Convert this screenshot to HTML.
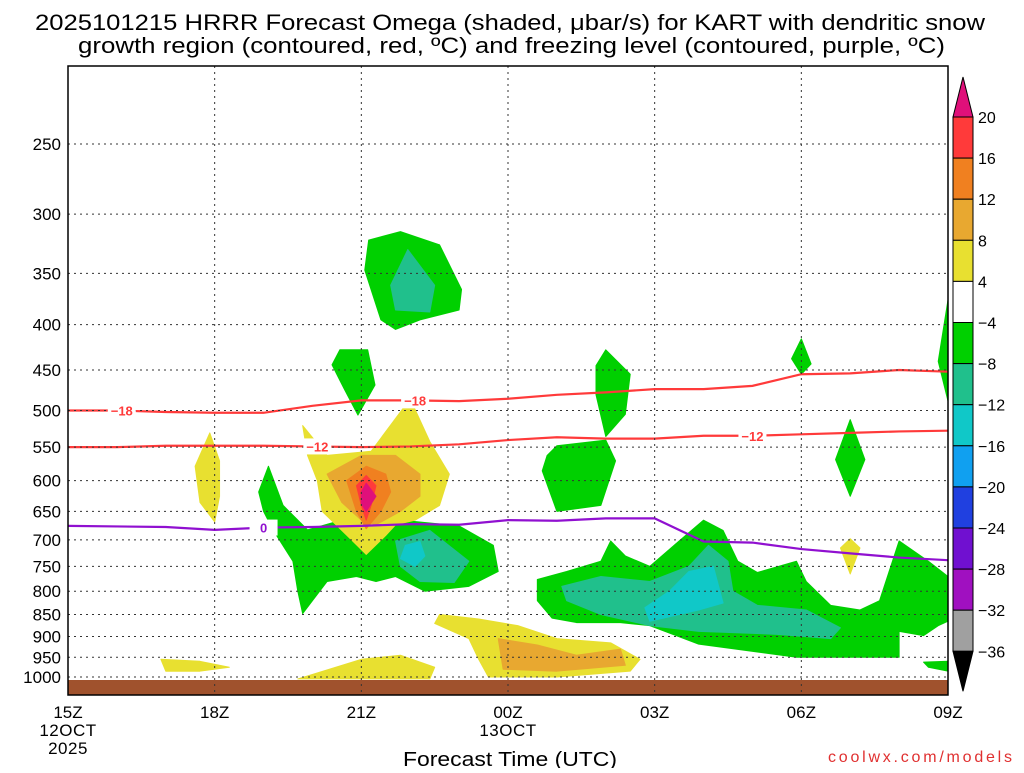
<!DOCTYPE html>
<html><head><meta charset="utf-8"><style>
body{margin:0;background:#fff;width:1024px;height:768px;overflow:hidden;font-family:"Liberation Sans",sans-serif}
svg text{font-family:"Liberation Sans","DejaVu Sans",sans-serif}
</style></head><body>
<svg id="chart" width="1024" height="768" xmlns="http://www.w3.org/2000/svg">
<text x="35" y="30" font-size="22" textLength="950" lengthAdjust="spacingAndGlyphs">2025101215 HRRR Forecast Omega (shaded, μbar/s) for KART with dendritic snow</text>
<text x="78" y="53" font-size="22" textLength="867" lengthAdjust="spacingAndGlyphs">growth region (contoured, red, ºC) and freezing level (contoured, purple, ºC)</text>
<g id="plot"></g>
<g id="cbar"></g>
<text x="403" y="766" font-size="20" textLength="214" lengthAdjust="spacingAndGlyphs">Forecast Time (UTC)</text>
<text x="828" y="762" font-size="16" fill="#e03030" textLength="184" lengthAdjust="spacing">coolwx.com/models</text>
</svg>
<script>
const pTicks=[250,300,350,400,450,500,550,600,650,700,750,800,850,900,950,1000];
const xTickHours=[0,3,6,9,12,15,18];
const xTickLabels=["15Z","18Z","21Z","00Z","03Z","06Z","09Z"];
const hours=[0,1,2,3,4,5,6,7,8,9,10,11,12,13,14,15,16,17,18];
const dgzMinus18=[500,500,502,503,503,494,487,487,488,485,480,477,473,473,469,455,454,450,452];
const dgzMinus12=[550,550,548,548,548,549,550,549,546,540,536,538,538,534,534,532,530,528,527];
const freezing0=[675,676,677,682,678,677,675,672,673,665,666,662,662,703,705,717,725,733,738];
const cbLevels=[20,16,12,8,4,-4,-8,-12,-16,-20,-24,-28,-32,-36];
const cbColors=["#ff3a3a","#f08020","#e8a830","#e8e030","#ffffff","#00d000","#20c08c","#10c8c8","#10a0f0","#2040e0","#7010d0","#a010c0","#a0a0a0"];
const shades=[
 {c:"#00d000",n:"upper-green",p:[[6.15,321],[6.8,314],[7.6,325],[8.05,365],[8.0,385],[7.2,395],[6.7,405],[6.4,395],[6.07,347]]},
 {c:"#20c08c",n:"upper-teal",p:[[6.95,329],[7.5,361],[7.4,387],[6.7,385],[6.6,361]]},
 {c:"#00d000",n:"green-21z-upper",p:[[5.56,427],[6.13,427],[6.28,468],[5.93,506],[5.66,474],[5.4,444]]},
 {c:"#00d000",n:"green-main-21z",p:[[3.9,618],[4.1,578],[4.4,640],[4.9,682],[5.6,665],[6.8,665],[8.0,675],[8.7,710],[8.8,760],[8.2,790],[7.3,800],[6.7,770],[6.3,780],[5.9,770],[5.3,780],[5.0,820],[4.8,848],[4.7,800],[4.6,740],[4.2,683],[4.0,650]]},
 {c:"#20c08c",n:"teal-21z",p:[[6.7,702],[7.4,683],[8.2,740],[7.9,782],[7.2,780],[6.8,750]]},
 {c:"#10c8c8",n:"cyan-21z",p:[[6.9,710],[7.2,703],[7.3,730],[7.1,750],[6.8,735]]},
 {c:"#e8e030",n:"yellow-21z",p:[[4.8,520],[5.3,562],[6.2,556],[7.0,485],[7.4,542],[7.8,590],[7.6,640],[7.1,665],[6.7,673],[6.5,692],[6.1,727],[5.8,700],[5.2,650],[5.1,600],[4.9,562]]},
 {c:"#e8a830",n:"gold-21z",p:[[5.3,590],[6.0,562],[6.7,562],[7.2,590],[7.2,625],[6.8,650],[6.3,673],[6.0,665],[5.6,635]]},
 {c:"#f08020",n:"orange-21z",p:[[5.7,600],[6.1,578],[6.5,590],[6.6,618],[6.4,650],[6.1,680],[5.9,650]]},
 {c:"#ff3a3a",n:"red-21z",p:[[5.9,608],[6.1,592],[6.3,608],[6.2,640],[6.1,665],[6.0,640]]},
 {c:"#e0107a",n:"magenta-21z",p:[[6.0,618],[6.1,604],[6.3,625],[6.1,650],[6.0,637]]},
 {c:"#e8e030",n:"yellow-18z",p:[[2.9,530],[3.1,570],[3.1,625],[3.0,668],[2.7,635],[2.6,578]]},
 {c:"#00d000",n:"green-02z-upper",p:[[11.0,427],[11.5,455],[11.4,505],[11.0,535],[10.8,480],[10.8,445]]},
 {c:"#00d000",n:"green-01z",p:[[10.0,548],[11.0,540],[11.2,570],[10.9,640],[10.0,650],[9.7,585],[9.8,562]]},
 {c:"#00d000",n:"green-06z",p:[[15.0,415],[15.2,443],[15.0,455],[14.8,437]]},
 {c:"#00d000",n:"green-07z",p:[[16.0,512],[16.3,568],[16.0,625],[15.7,568]]},
 {c:"#00d000",n:"green-09z-edge",p:[[18.0,375],[18.0,488],[17.8,440]]},
 {c:"#e8e030",n:"yellow-07z",p:[[16.0,698],[16.2,715],[16.0,765],[15.8,715]]},
 {c:"#00d000",n:"green-right-main",p:[[9.6,776],[10.2,760],[10.9,740],[11.1,702],[11.4,730],[11.9,750],[12.5,702],[13.0,665],[13.4,683],[13.7,740],[14.1,762],[14.9,740],[15.1,780],[15.6,830],[16.2,840],[16.6,820],[17.0,702],[17.6,740],[18.0,770],[18.0,865],[17.8,875],[17.5,898],[17.0,888],[17.0,950],[14.9,950],[14.1,937],[12.9,918],[11.9,875],[11.3,868],[10.4,868],[9.9,858],[9.6,820]]},
 {c:"#20c08c",n:"teal-right",p:[[10.1,790],[10.9,770],[11.9,780],[12.7,750],[13.1,710],[13.5,740],[13.6,800],[14.1,830],[15.1,840],[15.8,880],[15.6,905],[14.5,895],[12.9,888],[11.9,875],[10.9,850],[10.2,820]]},
 {c:"#10c8c8",n:"cyan-right",p:[[12.7,760],[13.2,750],[13.4,825],[12.9,840],[11.9,865],[11.8,835],[12.3,800]]},
 {c:"#00d000",n:"green-09z-low",p:[[17.5,962],[18,960],[18,985],[17.6,975]]},
 {c:"#e8e030",n:"yellow-bottom",p:[[7.6,850],[8.4,860],[9.2,875],[10.0,905],[11.1,915],[11.7,955],[11.5,985],[10.0,1000],[8.6,1000],[8.4,955],[8.2,905],[7.5,870]]},
 {c:"#e8e030",n:"yellow-21z-low",p:[[4.7,1005],[6.0,955],[6.8,945],[7.5,975],[7.4,1005]]},
 {c:"#e8a830",n:"gold-bottom",p:[[8.8,905],[9.6,920],[10.4,945],[11.3,930],[11.4,970],[10.0,985],[8.9,980]]},
 {c:"#e8e030",n:"yellow-17z",p:[[1.9,955],[2.7,960],[3.3,975],[2.7,985],[2.0,985]]}
];
const NS="http://www.w3.org/2000/svg";
const X0=68,X1=948,Y1000=677,K=384.5,YT=66,YB=695;
const xs=h=>X0+(X1-X0)*h/18;
const ys=p=>Y1000-K*Math.log(1000/p);
function mk(t,a,parent){const e=document.createElementNS(NS,t);for(const k in a)e.setAttribute(k,a[k]);parent.appendChild(e);return e;}
const plot=document.getElementById('plot');
const clipDef=mk('clipPath',{id:'clip'},plot);mk('rect',{x:X0,y:YT,width:X1-X0,height:YB-YT},clipDef);
const sg=mk('g',{'clip-path':'url(#clip)'},plot);
shades.forEach(s=>{const e=mk('polygon',{points:s.p.map(q=>xs(q[0])+','+ys(q[1])).join(' '),fill:s.c,stroke:s.c,'stroke-width':1,'stroke-linejoin':'round'},sg);

});
const ground=mk('rect',{x:X0,y:680,width:X1-X0,height:YB-680,fill:'#a0522d'},sg);


pTicks.forEach(p=>{const y=ys(p);
const g=mk('line',{x1:X0,x2:X1,y1:y,y2:y,stroke:'#333','stroke-dasharray':'2,4','stroke-width':1},plot);


const t=mk('text',{x:61,y:y+6,'font-size':17,'text-anchor':'end'},plot);t.textContent=p;

});
xTickHours.forEach((h,i)=>{const x=xs(h);
const g=mk('line',{x1:x,x2:x,y1:YT,y2:YB,stroke:'#333','stroke-dasharray':'2,4','stroke-width':1},plot);


const t=mk('text',{x:x,y:718,'font-size':17,'text-anchor':'middle'},plot);t.textContent=xTickLabels[i];

});
[["12OCT",X0,736],["2025",X0,754],["13OCT",xs(9),736]].forEach(a=>{const t=mk('text',{x:a[1],y:a[2],'font-size':17,'text-anchor':'middle','letter-spacing':'0.5'},plot);t.textContent=a[0];

});
function line(vals,col,nm){const e=mk('polyline',{points:hours.map((h,i)=>xs(h)+','+ys(vals[i])).join(' '),fill:'none',stroke:col,'stroke-width':2.2},sg);

}
line(dgzMinus18,'#ff3a3a','contour-minus18');
line(dgzMinus12,'#ff3a3a','contour-minus12');
line(freezing0,'#9010d0','freezing-level-0');
function lab(h,vals,txt,col){const y=ys(vals[Math.round(h)]);
mk('rect',{x:xs(h)-14,y:y-8,width:28,height:16,fill:'#fff'},plot);
const t=mk('text',{x:xs(h),y:y+5,'font-size':13,'font-weight':'bold',fill:col,'text-anchor':'middle'},plot);t.textContent=txt;

}
lab(1.1,dgzMinus18,'−18','#ff3a3a');lab(7.1,dgzMinus18,'−18','#ff3a3a');
lab(5.1,dgzMinus12,'−12','#ff3a3a');lab(14,dgzMinus12,'−12','#ff3a3a');
lab(4,freezing0,'0','#9010d0');
mk('rect',{x:X0,y:YT,width:X1-X0,height:YB-YT,fill:'none',stroke:'#000','stroke-width':1.5},plot);
const cb=document.getElementById('cbar');const CX=953,CW=20,CT=117,CS=41.1;
const cbTop=mk('polygon',{points:`${CX},${CT} ${CX+CW},${CT} ${CX+CW/2},${CT-40}`,fill:'#e0107a',stroke:'#000'},cb);


cbColors.forEach((c,i)=>{const r=mk('rect',{x:CX,y:CT+i*CS,width:CW,height:CS,fill:c,stroke:'#000','stroke-width':1},cb);

});
const yb=CT+cbColors.length*CS;
const cbBot=mk('polygon',{points:`${CX},${yb} ${CX+CW},${yb} ${CX+CW/2},${yb+40}`,fill:'#000',stroke:'#000'},cb);


cbLevels.forEach((v,i)=>{const t=mk('text',{x:978,y:CT+i*CS+6,'font-size':16},cb);t.textContent=v<0?'−'+(-v):v;

});
</script>
</body></html>
